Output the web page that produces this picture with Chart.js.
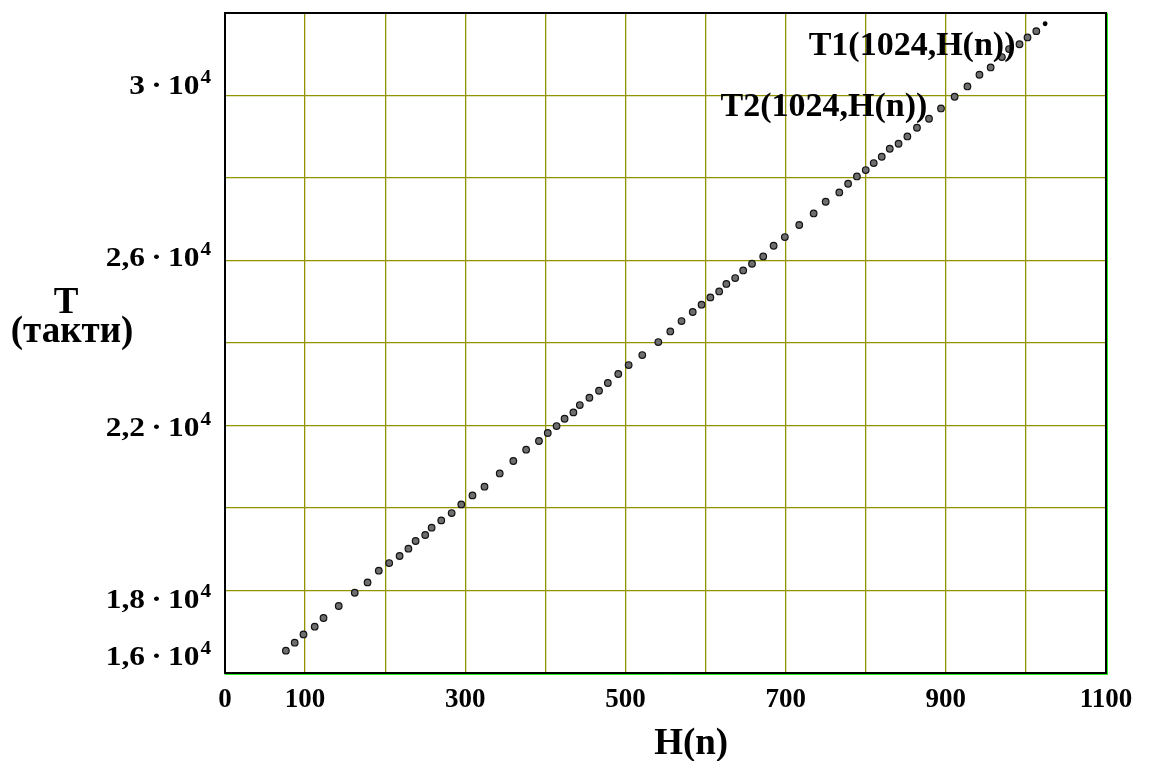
<!DOCTYPE html>
<html>
<head>
<meta charset="utf-8">
<title>T(H(n))</title>
<script src="https://cdn.jsdelivr.net/npm/chart.js@4/dist/chart.umd.min.js"></script>
<style>
    html, body { margin: 0; padding: 0; background: #fff; }
    #wrap { width: 1153px; height: 761px; }
</style>
</head>
<body>
<div id="wrap"><canvas id="timeChart" width="1153" height="761"></canvas></div>
<script>
// H(n) values and measured time in cycles (такти)
const hValues = [76, 87, 98, 112, 123, 142, 162, 178, 192, 205, 218, 229, 238, 250, 258,
    270, 283, 295, 309, 324, 343, 360, 376, 392, 403, 414, 424, 435, 443, 455, 467, 478,
    491, 504, 521, 541, 556, 570, 584, 595, 606, 617, 626, 637, 647, 658, 672, 685, 699,
    717, 735, 750, 767, 778, 789, 800, 810, 820, 830, 841, 852, 864, 879, 894, 911, 927,
    942, 956, 970, 979, 992, 1002, 1013, 1024];
const tValues = [16541, 16734, 16936, 17122, 17333, 17624, 17946, 18196, 18480, 18666,
    18836, 19013, 19200, 19345, 19522, 19699, 19878, 20087, 20305, 20516, 20838, 21139,
    21413, 21624, 21818, 21987, 22164, 22317, 22496, 22673, 22843, 23030, 23248, 23466,
    23708, 24023, 24280, 24532, 24751, 24928, 25105, 25250, 25432, 25575, 25759, 25921,
    26098, 26358, 26569, 26860, 27141, 27424, 27650, 27861, 28038, 28193, 28362, 28515,
    28709, 28830, 29007, 29218, 29436, 29686, 29970, 30219, 30503, 30680, 30932, 31126,
    31242, 31407, 31560, 31740];

// axis ticks that get a label (the grid has a line at every step)
const xLabelTicks = [0, 100, 300, 500, 700, 900, 1100];
const yLabelTicks = [16000, 18000, 22000, 26000, 30000];
const yMantissas = ['1,6', '1,8', '2,2', '2,6', '3'];

// series names, anchored at [H, T] (right edge, middle)
const seriesNames = ['T1(1024,H(n))', 'T2(1024,H(n))'];
const nameAnchors = [[987, 31206], [877, 29704]];

const serif = "'Liberation Serif', 'Times New Roman', serif";
const gridColor = '#939300';
// baseline of each y label relative to its grid line, px
const yLabelShift = [-8, 17, 10, 5, -2];

const t1Points = hValues.map((h, i) => ({ x: h, y: tValues[i] }));
const t2Points = t1Points.slice(0, t1Points.length - 1);

// mantissa·10^4 written right-aligned, the power raised and smaller
function drawPowerLabel(ctx, mantissa, right, baseline) {
    const stretch = 1.12;
    const main = mantissa + '\u2009·\u200910';
    ctx.font = 'bold 28px ' + serif;
    const wMain = ctx.measureText(main).width * stretch;
    ctx.font = 'bold 19px ' + serif;
    const wSup = ctx.measureText('4').width * stretch;
    const left = right - wMain - wSup - 1;
    ctx.save();
    ctx.translate(left, baseline);
    ctx.scale(stretch, 1);
    ctx.textAlign = 'left';
    ctx.textBaseline = 'alphabetic';
    ctx.font = 'bold 28px ' + serif;
    ctx.fillText(main, 0, 0);
    ctx.font = 'bold 19px ' + serif;
    ctx.fillText('4', wMain / stretch + 1, -11);
    ctx.restore();
}

const frameAndText = {
    id: 'frameAndText',
    afterDatasetsDraw(chart) {
        const { ctx, chartArea: a, scales } = chart;
        const xs = scales.x, ys = scales.y;
        ctx.save();
        // frame round the plot
        ctx.strokeStyle = '#000';
        ctx.lineWidth = 2;
        ctx.strokeRect(a.left, a.top, a.right - a.left, a.bottom - a.top);
        ctx.strokeStyle = '#22ee22';
        ctx.lineWidth = 1;
        ctx.beginPath();
        ctx.moveTo(a.left, a.bottom + 1.5);
        ctx.lineTo(a.right + 1.5, a.bottom + 1.5);
        ctx.lineTo(a.right + 1.5, a.top);
        ctx.stroke();

        ctx.fillStyle = '#000';
        yLabelTicks.forEach((v, i) => {
            drawPowerLabel(ctx, yMantissas[i], a.left - 14, ys.getPixelForValue(v) + yLabelShift[i]);
        });

        ctx.font = 'bold 34px ' + serif;
        ctx.textAlign = 'right';
        ctx.textBaseline = 'middle';
        seriesNames.forEach((name, i) => {
            ctx.fillText(name, xs.getPixelForValue(nameAnchors[i][0]), ys.getPixelForValue(nameAnchors[i][1]));
        });

        ctx.textAlign = 'center';
        ctx.font = 'bold 37px ' + serif;
        ctx.fillText('H(n)', xs.getPixelForValue(582), a.bottom + 71);
        ctx.fillText('T', 66, ys.getPixelForValue(24970));
        ctx.fillText('(такти)', 72, ys.getPixelForValue(24250));
        ctx.restore();
    }
};

new Chart(document.getElementById('timeChart'), {
    type: 'scatter',
    data: {
        datasets: [{
            label: 'T1',
            data: t1Points,
            pointRadius: 2.4,
            pointBackgroundColor: '#000',
            pointBorderWidth: 0,
            order: 2
        }, {
            label: 'T2',
            data: t2Points,
            pointRadius: 3.3,
            pointBackgroundColor: '#6e6e6e',
            pointBorderColor: '#111',
            pointBorderWidth: 1.2,
            order: 1
        }]
    },
    options: {
        responsive: false,
        animation: false,
        events: [],
        layout: { padding: { left: 0, right: 47, top: 13, bottom: 0 } },
        plugins: {
            legend: { display: false },
            tooltip: { enabled: false }
        },
        scales: {
            x: {
                type: 'linear',
                min: 0,
                max: 1100,
                afterFit: (scale) => { scale.height = 88; },
                grid: { color: gridColor, lineWidth: 1.3, drawTicks: false },
                border: { color: '#000', width: 2 },
                ticks: {
                    stepSize: 100,
                    autoSkip: false,
                    maxRotation: 0,
                    padding: 11,
                    color: '#000',
                    font: { family: serif, size: 27, weight: 'bold' },
                    callback: (v) => xLabelTicks.includes(v) ? String(v) : ''
                }
            },
            y: {
                type: 'linear',
                min: 16000,
                max: 32000,
                afterFit: (scale) => { scale.width = 225; },
                grid: { color: gridColor, lineWidth: 1.3, drawTicks: false },
                border: { color: '#000', width: 2 },
                ticks: {
                    stepSize: 2000,
                    display: false
                }
            }
        }
    },
    plugins: [frameAndText]
});
</script>
</body>
</html>
